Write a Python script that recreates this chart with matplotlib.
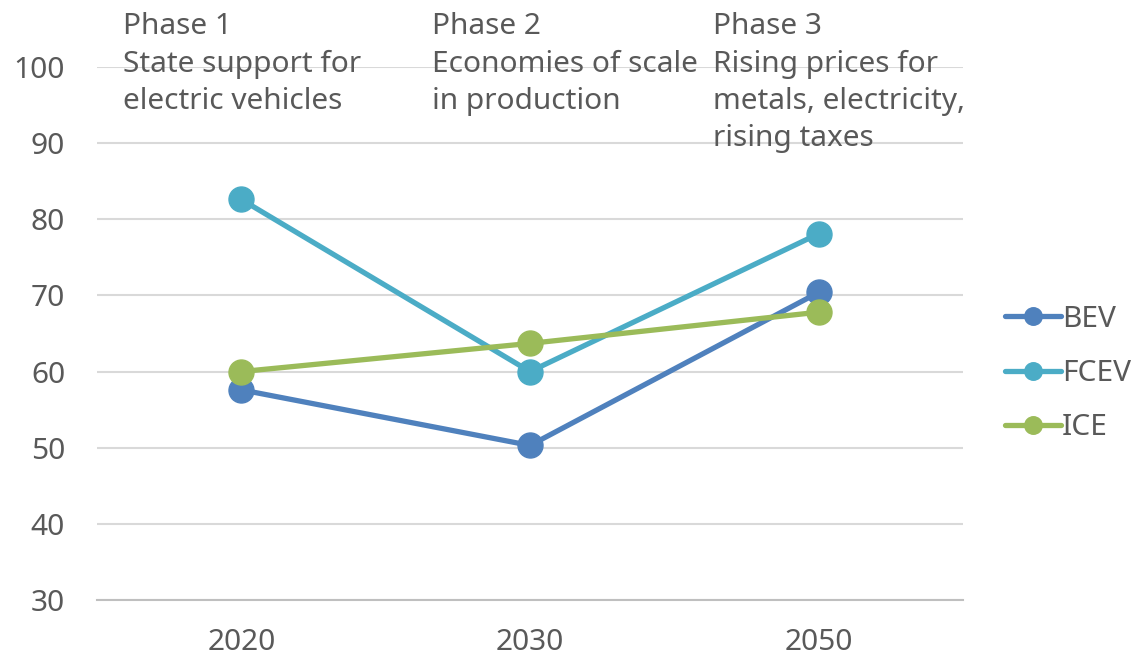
import matplotlib
matplotlib.use("Agg")
import matplotlib.pyplot as plt

years = ["2020", "2030", "2050"]
bev = [57.6, 50.3, 70.4]
fcev = [82.6, 60.0, 78.1]
ice = [60.0, 63.7, 67.8]
series_names = ["BEV", "FCEV", "ICE"]
colors = ["#4F81BD", "#4BACC6", "#9BBB59"]
phase_texts = [
    "Phase 1\nState support for\nelectric vehicles",
    "Phase 2\nEconomies of scale\nin production",
    "Phase 3\nRising prices for\nmetals, electricity,\nrising taxes",
]
yticks = [30, 40, 50, 60, 70, 80, 90, 100]

txt = "#595959"
fs = 21.5
plt.rcParams['font.family'] = ['Noto Sans', 'DejaVu Sans']
fig = plt.figure(figsize=(11.37, 6.56), dpi=100)
ax = fig.add_axes([97/1137, 1-600/656, (963-97)/1137, (600-67)/656])

x = list(range(len(years)))
for name, vals, c in zip(series_names, [bev, fcev, ice], colors):
    ax.plot(x, vals, color=c, lw=3.8, marker='o', ms=18, label=name,
            solid_capstyle='round', zorder=3)

ax.set_xlim(-0.5, 2.5)
ax.set_ylim(30, 100)
ax.set_yticks(yticks)
ax.set_xticks(x)
ax.set_xticklabels(years)
ax.tick_params(axis='both', length=0, labelsize=fs, colors=txt)
ax.tick_params(axis='y', pad=23)
ax.tick_params(axis='x', pad=20)
ax.grid(axis='y', color='#D9D9D9', lw=1.5)
ax.set_axisbelow(True)
for s in ['top', 'right', 'left']:
    ax.spines[s].set_visible(False)
ax.spines['bottom'].set_color('#BFBFBF')
ax.spines['bottom'].set_linewidth(1.5)

text_x = [-0.41, 0.66, 1.634]
for xp, t in zip(text_x, phase_texts):
    ax.text(xp, 107.2, t, ha='left', va='top', fontsize=fs, color=txt,
            linespacing=1.38, clip_on=False)

leg = ax.legend(loc='center left', bbox_to_anchor=(1.018, 0.425), frameon=False,
                fontsize=fs, labelcolor=txt, handlelength=1.85, labelspacing=0.85,
                handletextpad=0.05, markerscale=0.7)
fig.savefig("out.png", dpi=100)
